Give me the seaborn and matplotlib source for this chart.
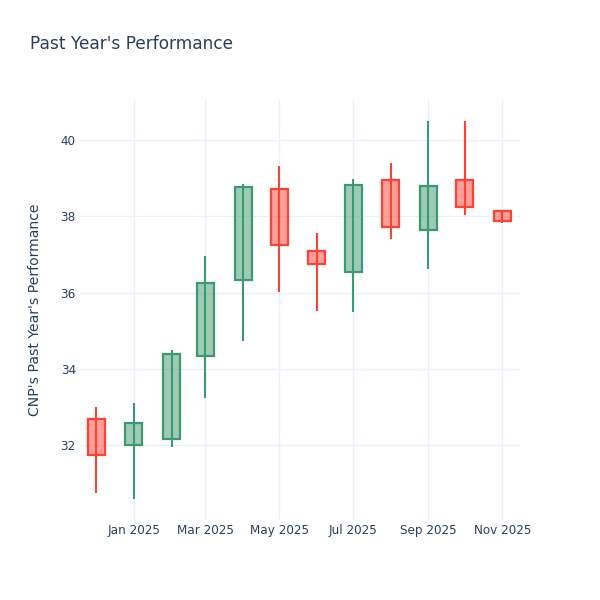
import pandas as pd
import numpy as np
import matplotlib
matplotlib.use("Agg")
import matplotlib.pyplot as plt
import matplotlib.dates as mdates
import seaborn as sns

# ---- data ----
months = ["2024-12-01", "2025-01-01", "2025-02-01", "2025-03-01", "2025-04-01", "2025-05-01",
          "2025-06-01", "2025-07-01", "2025-08-01", "2025-09-01", "2025-10-01", "2025-11-01"]
open_ = [32.70, 32.00, 32.16, 34.35, 36.32, 38.71, 37.10, 36.53, 38.96, 37.65, 38.94, 38.13]
high = [33.01, 33.12, 34.50, 36.97, 38.86, 39.31, 37.56, 38.98, 39.40, 40.51, 40.49, 38.13]
low = [30.76, 30.60, 31.96, 33.25, 34.72, 36.01, 35.53, 35.48, 37.40, 36.62, 38.04, 37.82]
close = [31.74, 32.57, 34.38, 36.25, 38.78, 37.25, 36.75, 38.83, 37.72, 38.80, 38.24, 37.88]
xtick_dates = ["2025-01-01", "2025-03-01", "2025-05-01", "2025-07-01", "2025-09-01", "2025-11-01"]
xtick_labels = ["Jan 2025", "Mar 2025", "May 2025", "Jul 2025", "Sep 2025", "Nov 2025"]
ytick_values = [32, 34, 36, 38, 40]
title = "Past Year's Performance"
ylabel = "CNP's Past Year's Performance"

df = pd.DataFrame({"date": pd.to_datetime(months), "open": open_, "high": high,
                   "low": low, "close": close})

sns.set_style("white")
plt.rcParams["font.family"] = ["DejaVu Sans"]

TXT = "#2a3f5f"
GRID = "#EBF0F8"
INC_LINE = "#3D9970"
DEC_LINE = "#FF4136"
INC_FILL = (61/255, 153/255, 112/255, 0.5)
DEC_FILL = (255/255, 65/255, 54/255, 0.5)

fig = plt.figure(figsize=(6, 6), dpi=100)
ax = fig.add_axes([80/600, 80/600, 440/600, 420/600])

x = mdates.date2num(df["date"])
for xi, o, h, l, c in zip(x, df["open"], df["high"], df["low"], df["close"]):
    inc = c >= o
    lc = INC_LINE if inc else DEC_LINE
    fc = INC_FILL if inc else DEC_FILL
    ax.vlines(xi, l, h, color=lc, linewidth=1.5, zorder=2)
    ax.bar(xi, abs(c - o), bottom=min(o, c), width=14, color=fc, edgecolor=lc,
           linewidth=1.6, zorder=3)

ax.xaxis_date()
ax.set_xlim(mdates.date2num(pd.Timestamp("2024-11-17 12:00")),
            mdates.date2num(pd.Timestamp("2025-11-15 12:00")))
ax.set_ylim(30.04, 41.05)
ax.set_xticks(mdates.date2num(pd.to_datetime(xtick_dates)))
ax.set_xticklabels(xtick_labels)
ax.set_yticks(ytick_values)
ax.set_yticklabels([str(v) for v in ytick_values])
ax.tick_params(axis="both", length=0, labelsize=8.64, labelcolor=TXT)
ax.tick_params(axis="y", pad=3)
ax.tick_params(axis="x", pad=3)
ax.grid(True, color=GRID, linewidth=1)
ax.set_axisbelow(True)
for s in ax.spines.values():
    s.set_visible(False)

fig.text(30/600, 1 - 44/600, title, fontsize=12.24, color=TXT, va="center", ha="left")
fig.text(35/600, 1 - 310/600, ylabel, fontsize=10.08, color=TXT, va="center", ha="center",
         rotation=90)

fig.savefig("out.png", dpi=100, facecolor="white")
